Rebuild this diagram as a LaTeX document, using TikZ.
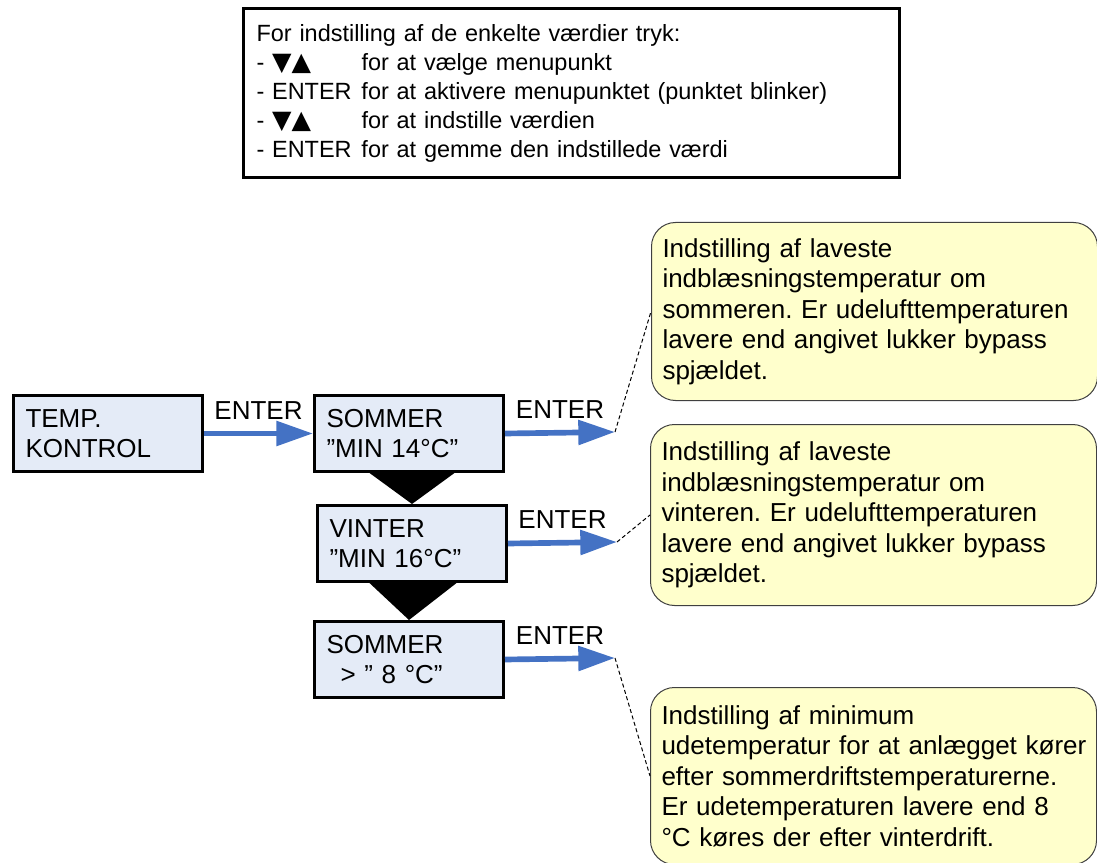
\documentclass[tikz,border=0pt]{standalone}
\usepackage{fontspec}
\setmainfont{Liberation Sans}
\newfontfamily\arrowfont{DejaVu Sans}
\usetikzlibrary{arrows.meta}
\frenchspacing
\definecolor{boxfill}{RGB}{228,235,247}
\definecolor{notefill}{RGB}{255,255,204}
\definecolor{noteline}{RGB}{64,64,64}
\definecolor{enterblue}{RGB}{68,114,196}
\newcommand{\updown}{{\arrowfont\fontsize{19}{19}\selectfont ▼▲}}
\tikzset{
  menubox/.style={draw=black, line width=2.25pt, fill=boxfill, anchor=north west,
    text width=123.75pt, inner xsep=9pt, inner ysep=0pt, minimum height=57pt,
    align=left, font=\fontsize{19.5}{22.5}\selectfont},
  notebox/.style={draw=noteline, line width=0.75pt, fill=notefill, rounded corners=18pt,
    anchor=north west, text width=318pt, inner xsep=8.25pt, inner ysep=0pt,
    align=left, font=\fontsize{19.5}{22.9}\selectfont},
  enterarrow/.style={draw=enterblue, line width=4.25pt, -{Triangle[length=27.5pt,width=18pt]}},
  enterlabel/.style={inner sep=0pt, font=\fontsize{19.5}{22.5}\selectfont},
  leader/.style={draw=black, line width=0.75pt, dash pattern=on 3pt off 2pt},
}

\begin{document}
\begin{tikzpicture}[x=0.75pt,y=-0.75pt]
\useasboundingbox (0,0) rectangle (1097,863);

\node[draw, line width=2.25pt, anchor=north west, text width=472.5pt, inner xsep=9.75pt,
  inner ysep=0pt, minimum height=126.75pt, align=left,
  font=\fontsize{17.6}{21.75}\selectfont] (help) at (242,7)
  {For indstilling af de enkelte værdier tryk:\\
   \makebox[78.75pt][l]{- \updown}for at vælge menupunkt\\
   \makebox[78.75pt][l]{- ENTER}for at aktivere menupunktet (punktet blinker)\\
   \makebox[78.75pt][l]{- \updown}for at indstille værdien\\
   \makebox[78.75pt][l]{- ENTER}for at gemme den indstillede værdi};

\node[notebox, minimum height=133.5pt] (note1) at (651,222)
  {Indstilling af laveste\\ indblæsningstemperatur om\\ sommeren. Er udelufttemperaturen\\
   lavere end angivet lukker bypass\\ spjældet.};
\node[notebox, minimum height=135.75pt] (note2) at (650,424)
  {Indstilling af laveste\\ indblæsningstemperatur om\\ vinteren. Er udelufttemperaturen\\
   lavere end angivet lukker bypass\\ spjældet.};
\node[notebox, minimum height=132.75pt] (note3) at (650,687)
  {Indstilling af minimum\\ \mbox{udetemperatur for at anlægget kører}\\ efter sommerdriftstemperaturerne.\\
   Er udetemperaturen lavere end 8\\ °C køres der efter vinterdrift.};

\node[menubox] (temp) at (12,394) {TEMP.\\ KONTROL};
\node[menubox] (sommer) at (313,394) {SOMMER\\ ”MIN 14°C”};
\node[menubox] (vinter) at (316,504) {VINTER\\ ”MIN 16°C”};
\node[menubox] (udemin) at (313,620) {SOMMER\\ \hspace*{10.5pt}> ” 8 °C”};

\coordinate (end1) at (615,432);
\coordinate (end2) at (617,542);
\coordinate (end3) at (615,658);

\draw[leader] (end1) -- (note1.west);
\draw[leader] (end2) -- (note2.west);
\draw[leader] (end3) -- (note3.west);

\draw[enterarrow] (temp.east) -- (sommer.west) node[enterlabel, midway, above=8.25pt] {ENTER};
\draw[enterarrow] (sommer.east) -- (end1) node[enterlabel, midway, above=8.25pt] {ENTER};
\draw[enterarrow] (vinter.east) -- (end2) node[enterlabel, midway, above=8.25pt] {ENTER};
\draw[enterarrow] (udemin.east) -- (end3) node[enterlabel, midway, above=8.25pt] {ENTER};

\fill ([xshift=-29.6pt]sommer.south) -- ([xshift=34.1pt]sommer.south) -- (vinter.north) -- cycle;
\fill ([xshift=-31.9pt]vinter.south) -- ([xshift=33.4pt]vinter.south) -- (udemin.north) -- cycle;
\end{tikzpicture}
\end{document}
